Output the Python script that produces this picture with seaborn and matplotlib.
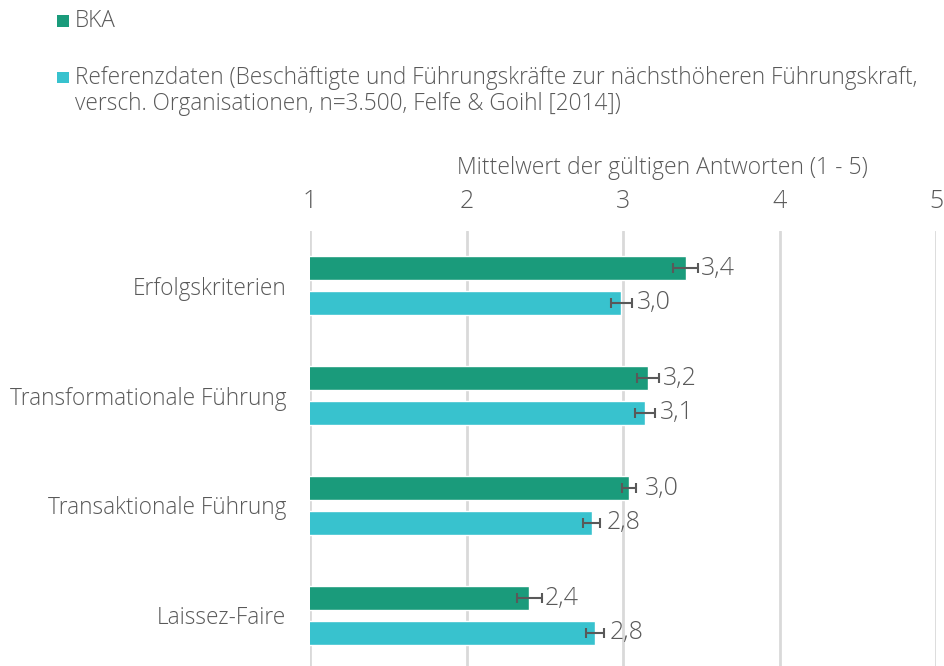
import matplotlib
matplotlib.use("Agg")
import matplotlib.pyplot as plt
import seaborn as sns
import pandas as pd
from matplotlib.patches import Rectangle

categories = ["Erfolgskriterien", "Transformationale Führung", "Transaktionale Führung", "Laissez-Faire"]
groups = ["BKA", "Referenzdaten"]
legend_lines = [
    ["BKA"],
    ["Referenzdaten (Beschäftigte und Führungskräfte zur nächsthöheren Führungskraft,",
     "versch. Organisationen, n=3.500, Felfe & Goihl [2014])"],
]
bka_values = [3.40, 3.16, 3.04, 2.40]
ref_values = [2.99, 3.14, 2.80, 2.82]
bka_err = [0.08, 0.07, 0.045, 0.08]
ref_err = [0.065, 0.064, 0.056, 0.059]
x_ticks = [1, 2, 3, 4, 5]
x_label = "Mittelwert der gültigen Antworten (1 - 5)"

green = "#1A9B7B"
cyan = "#38C2CE"
text_col = "#595959"
colors = [green, cyan]

df = pd.DataFrame({
    "Kategorie": categories * 2,
    "Gruppe": [groups[0]] * 4 + [groups[1]] * 4,
    "Wert": bka_values + ref_values,
})

sns.set_theme(style="white")
plt.rcParams["font.family"] = ["Open Sans", "DejaVu Sans"]
plt.rcParams["font.weight"] = "light"
plt.rcParams["axes.labelweight"] = "light"

W, H = 944, 666
fig = plt.figure(figsize=(W / 100, H / 100), dpi=100)
ax = fig.add_axes([310 / W, (H - 670.5) / H, (936 - 310) / W, 440 / H])

sns.barplot(data=df, y="Kategorie", x="Wert", hue="Gruppe", order=categories,
            hue_order=groups, orient="h", palette=colors, width=0.636,
            gap=0.314, errorbar=None, legend=False, ax=ax, saturation=1)

errs = [bka_err, ref_err]
vals = [bka_values, ref_values]
for cont, err, v in zip(ax.containers, errs, vals):
    ys = [p.get_y() + p.get_height() / 2 for p in cont.patches]
    xs = [p.get_width() for p in cont.patches]
    ax.errorbar(xs, ys, xerr=err, fmt="none", ecolor=text_col, elinewidth=1.5,
                capsize=3.6, capthick=1.5, zorder=5)
    ax.bar_label(cont, labels=[f"{x:.1f}".replace(".", ",") for x in v],
                 padding=11, fontsize=18, color=text_col, fontweight="light")

ax.set_xlim(1, 5)
ax.set_ylim(len(categories) - 0.5, -0.5)
ax.set_xticks(x_ticks)
ax.set_xticklabels([str(t) for t in x_ticks])
ax.xaxis.tick_top()
ax.xaxis.set_label_position("top")
ax.set_xlabel(x_label, fontsize=16.5, color=text_col, fontweight="light")
ax.xaxis.set_label_coords((662 - 310) / 626, 0.128)
ax.xaxis.set_label_coords((662 - 310) / 626, 1.128)
ax.set_ylabel("")
ax.tick_params(axis="x", length=0, labelsize=18, colors=text_col, pad=12)
ax.tick_params(axis="y", length=0, labelsize=16.3, colors=text_col, pad=17)
ax.grid(axis="x", color="#D9D9D9", linewidth=2)
ax.set_axisbelow(True)
for s in ax.spines.values():
    s.set_visible(False)

# legend
sq_x, sq_w = 57, 11.5
entry_y = [21, 77.5]
line_gap = 26
for col, lines, y0 in zip(colors, legend_lines, entry_y):
    fig.patches.append(Rectangle((sq_x / W, 1 - (y0 + 5.5) / H), sq_w / W, 11 / H,
                                 transform=fig.transFigure, facecolor=col,
                                 edgecolor="none"))
    for i, line in enumerate(lines):
        fig.text(75 / W, 1 - (y0 + i * line_gap) / H, line, va="center", ha="left",
                 fontsize=16.3, color=text_col, fontweight="light")

fig.savefig("out.png", dpi=100)
